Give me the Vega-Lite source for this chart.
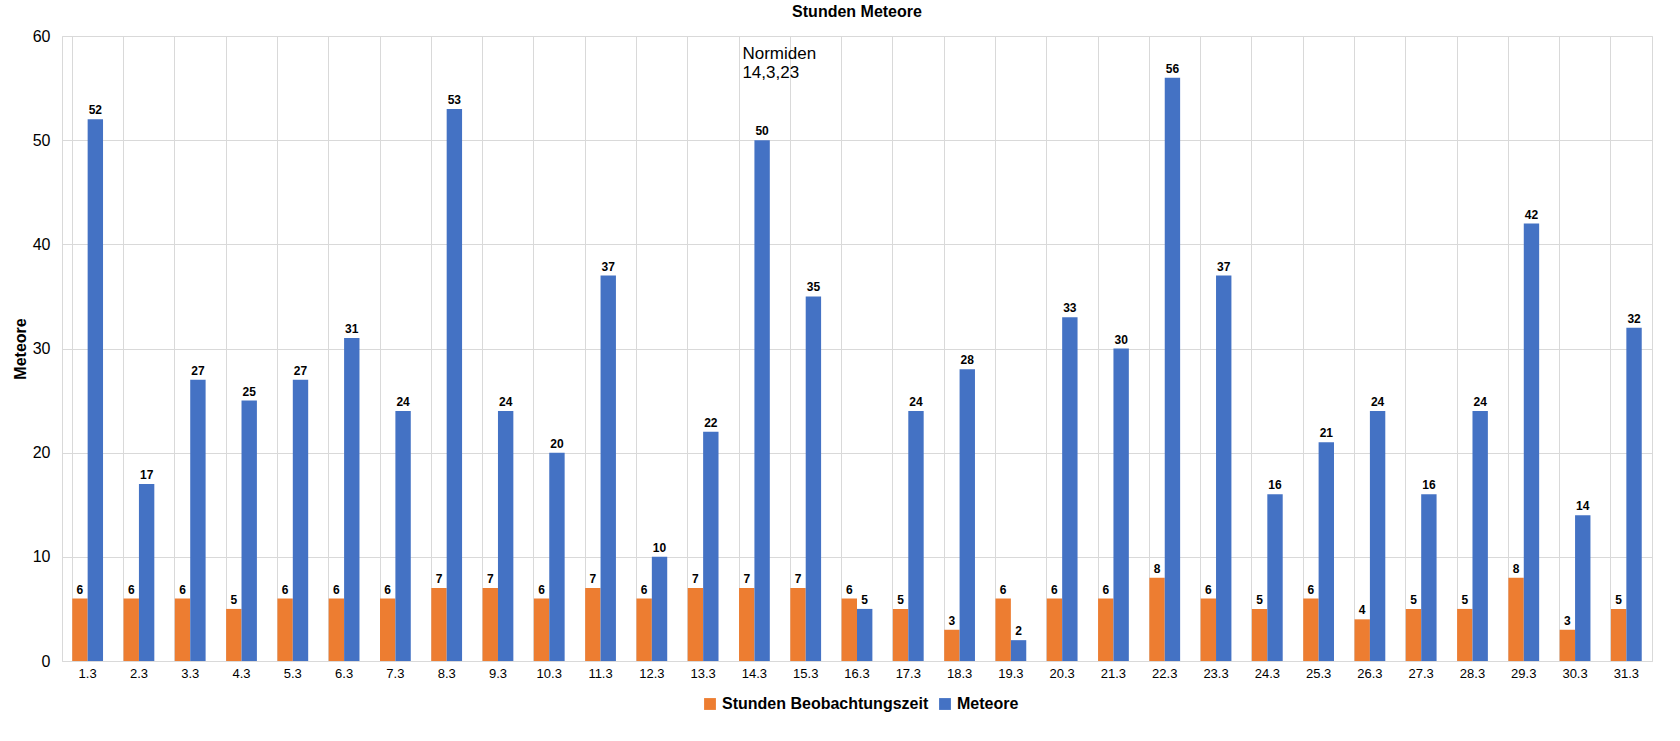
{
  "$schema": "https://vega.github.io/schema/vega-lite/v6.json",
  "width": 1590,
  "height": 625,
  "padding": {"left": 12, "right": 8, "top": 4, "bottom": 0},
  "background": "white",
  "title": {"text": "Stunden Meteore", "font": "Arial", "fontSize": 16, "fontWeight": "bold", "color": "#000", "offset": 8},
  "config": {"view": {"stroke": "#d9d9d9"}, "font": "Arial"},
  "data": {"values": [
    {"Tag": "1.3", "Stunden Beobachtungszeit": 6, "Meteore": 52},
    {"Tag": "2.3", "Stunden Beobachtungszeit": 6, "Meteore": 17},
    {"Tag": "3.3", "Stunden Beobachtungszeit": 6, "Meteore": 27},
    {"Tag": "4.3", "Stunden Beobachtungszeit": 5, "Meteore": 25},
    {"Tag": "5.3", "Stunden Beobachtungszeit": 6, "Meteore": 27},
    {"Tag": "6.3", "Stunden Beobachtungszeit": 6, "Meteore": 31},
    {"Tag": "7.3", "Stunden Beobachtungszeit": 6, "Meteore": 24},
    {"Tag": "8.3", "Stunden Beobachtungszeit": 7, "Meteore": 53},
    {"Tag": "9.3", "Stunden Beobachtungszeit": 7, "Meteore": 24},
    {"Tag": "10.3", "Stunden Beobachtungszeit": 6, "Meteore": 20},
    {"Tag": "11.3", "Stunden Beobachtungszeit": 7, "Meteore": 37},
    {"Tag": "12.3", "Stunden Beobachtungszeit": 6, "Meteore": 10},
    {"Tag": "13.3", "Stunden Beobachtungszeit": 7, "Meteore": 22},
    {"Tag": "14.3", "Stunden Beobachtungszeit": 7, "Meteore": 50},
    {"Tag": "15.3", "Stunden Beobachtungszeit": 7, "Meteore": 35},
    {"Tag": "16.3", "Stunden Beobachtungszeit": 6, "Meteore": 5},
    {"Tag": "17.3", "Stunden Beobachtungszeit": 5, "Meteore": 24},
    {"Tag": "18.3", "Stunden Beobachtungszeit": 3, "Meteore": 28},
    {"Tag": "19.3", "Stunden Beobachtungszeit": 6, "Meteore": 2},
    {"Tag": "20.3", "Stunden Beobachtungszeit": 6, "Meteore": 33},
    {"Tag": "21.3", "Stunden Beobachtungszeit": 6, "Meteore": 30},
    {"Tag": "22.3", "Stunden Beobachtungszeit": 8, "Meteore": 56},
    {"Tag": "23.3", "Stunden Beobachtungszeit": 6, "Meteore": 37},
    {"Tag": "24.3", "Stunden Beobachtungszeit": 5, "Meteore": 16},
    {"Tag": "25.3", "Stunden Beobachtungszeit": 6, "Meteore": 21},
    {"Tag": "26.3", "Stunden Beobachtungszeit": 4, "Meteore": 24},
    {"Tag": "27.3", "Stunden Beobachtungszeit": 5, "Meteore": 16},
    {"Tag": "28.3", "Stunden Beobachtungszeit": 5, "Meteore": 24},
    {"Tag": "29.3", "Stunden Beobachtungszeit": 8, "Meteore": 42},
    {"Tag": "30.3", "Stunden Beobachtungszeit": 3, "Meteore": 14},
    {"Tag": "31.3", "Stunden Beobachtungszeit": 5, "Meteore": 32}
  ]},
  "transform": [{"fold": ["Stunden Beobachtungszeit", "Meteore"], "as": ["Serie", "Wert"]}],
  "encoding": {
    "x": {"field": "Tag", "type": "nominal", "sort": null, "title": null,
      "scale": {"paddingInner": 0.4, "paddingOuter": 0.2},
      "axis": {"labelAngle": 0, "labelFontSize": 13, "labelColor": "#000", "grid": true, "bandPosition": 0, "gridColor": "#d9d9d9", "domainColor": "#d9d9d9", "ticks": false, "labelPadding": 6}},
    "xOffset": {"field": "Serie", "type": "nominal", "sort": ["Stunden Beobachtungszeit", "Meteore"], "scale": {"paddingInner": 0}},
    "y": {"field": "Wert", "type": "quantitative", "title": "Meteore",
      "scale": {"domain": [0, 60]},
      "axis": {"values": [0, 10, 20, 30, 40, 50, 60], "labelFontSize": 16, "labelColor": "#000", "titleFontSize": 16, "titleColor": "#000", "gridColor": "#d9d9d9", "domain": false, "ticks": false, "labelPadding": 12}}
  },
  "layer": [
    {
      "mark": {"type": "bar"},
      "encoding": {
        "color": {"field": "Serie", "type": "nominal", "sort": ["Stunden Beobachtungszeit", "Meteore"],
          "scale": {"domain": ["Stunden Beobachtungszeit", "Meteore"], "range": ["#ED7D31", "#4472C4"]},
          "legend": {"orient": "none", "legendX": 640, "legendY": 660, "direction": "horizontal", "title": null, "labelFontSize": 16, "labelFontWeight": "bold", "labelColor": "#000", "symbolType": "square", "symbolSize": 140, "columnPadding": 8, "labelLimit": 400}}
      }
    },
    {
      "mark": {"type": "text", "dy": -9, "fontSize": 12, "fontWeight": "bold", "color": "#000"},
      "encoding": {"text": {"field": "Wert", "type": "quantitative"}}
    },
    {
      "data": {"values": [{"Tag": "14.3", "y": 59, "t": ["Normiden", "14,3,23"]}]},
      "transform": [],
      "mark": {"type": "text", "align": "left", "baseline": "top", "fontSize": 17, "dx": -12, "color": "#000"},
      "encoding": {
        "x": {"field": "Tag", "type": "nominal", "sort": null},
        "xOffset": null,
        "y": {"field": "y", "type": "quantitative"},
        "text": {"field": "t"}
      }
    }
  ]
}
